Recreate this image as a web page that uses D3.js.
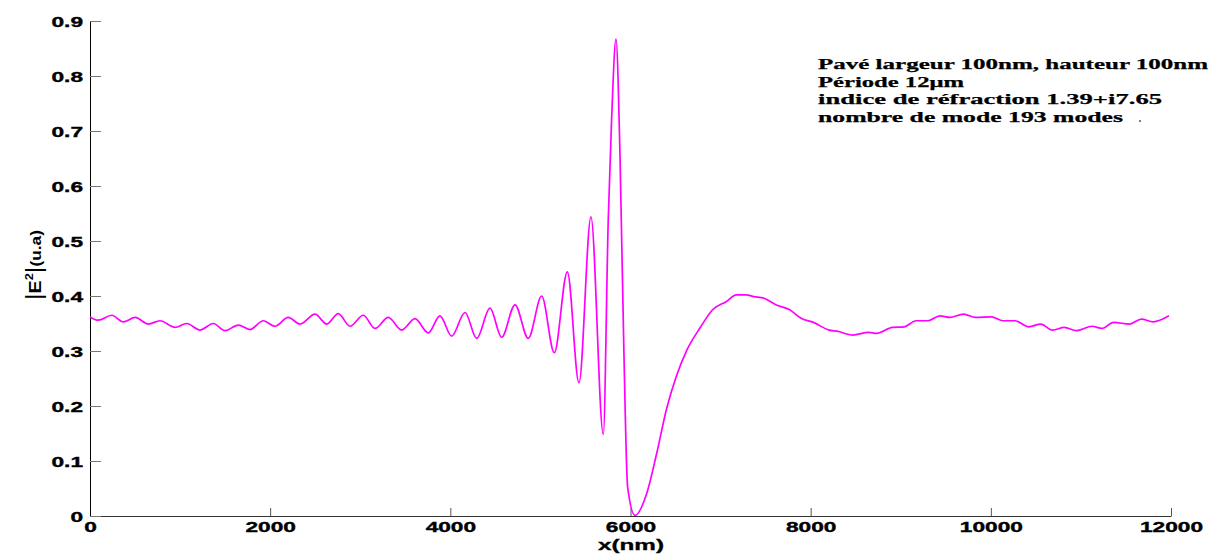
<!DOCTYPE html>
<html>
<head>
<meta charset="utf-8">
<script src="https://cdn.jsdelivr.net/npm/d3@7"></script>
<style>
  html, body { margin: 0; padding: 0; background: #fff; }
  svg { display: block; }
</style>
</head>
<body>
<div id="chart"></div>
<script>
// x position (nm) of each point
const xNm = [
  0, 92, 241, 370, 500, 647, 777, 944, 1073, 1221, 1369, 1499, 1646, 1776, 1924, 2054,
  2201, 2331, 2498, 2628, 2756, 2886, 3034, 3164, 3311, 3460, 3608, 3755, 3885, 4015,
  4163, 4293, 4440, 4570, 4718, 4865, 5014, 5154, 5299, 5428, 5561, 5698, 5753, 5790,
  5839, 5883, 5927, 5968, 6050, 6180, 6291, 6402, 6513, 6627, 6780, 6911, 7066, 7175,
  7284, 7370, 7481, 7613, 7767, 7899, 8030, 8205, 8292, 8469, 8645, 8733, 8908, 9039,
  9171, 9302, 9434, 9544, 9697, 9829, 10004, 10136, 10268, 10422, 10553, 10685, 10816,
  10948, 11123, 11233, 11364, 11540, 11672, 11803, 11977
];
// |E^2| (u.a) at those points
const intensity = [
  0.362, 0.356, 0.365, 0.353, 0.361, 0.349, 0.355, 0.343, 0.350, 0.338, 0.350, 0.337, 0.347, 0.339, 0.355, 0.345,
  0.361, 0.349, 0.367, 0.349, 0.368, 0.345, 0.365, 0.341, 0.361, 0.338, 0.359, 0.333, 0.364, 0.327,
  0.370, 0.323, 0.378, 0.325, 0.384, 0.323, 0.400, 0.297, 0.444, 0.242, 0.544, 0.1485, 0.538, 0.720,
  0.867, 0.659, 0.296, 0.053, 0.001, 0.041, 0.114, 0.196, 0.256, 0.302, 0.344, 0.375, 0.390, 0.402,
  0.402, 0.399, 0.396, 0.384, 0.375, 0.359, 0.352, 0.338, 0.336, 0.329, 0.334, 0.332, 0.343, 0.344,
  0.355, 0.355, 0.364, 0.361, 0.367, 0.361, 0.362, 0.355, 0.355, 0.344, 0.349, 0.338, 0.343,
  0.337, 0.345, 0.341, 0.352, 0.349, 0.358, 0.353, 0.364
];

const xTicks = [0, 2000, 4000, 6000, 8000, 10000, 12000];
const yTicks = [0, 0.1, 0.2, 0.3, 0.4, 0.5, 0.6, 0.7, 0.8, 0.9];

const noteLines = [
  "Pavé largeur 100nm, hauteur 100nm",
  "Période 12μm",
  "indice de réfraction 1.39+i7.65",
  "nombre de mode 193 modes"
];
const noteWidths = [390, 146, 344, 305];

const W = 1220, H = 554;
const sans = "'Liberation Sans', Arial, Helvetica, sans-serif";
const serif = "'Liberation Serif', 'Times New Roman', serif";

const svg = d3.select("#chart").append("svg")
    .attr("width", W)
    .attr("height", H);

const x = d3.scaleLinear().domain([0, 12000]).range([90, 1171]);
const y = d3.scaleLinear().domain([0, 0.9]).range([516, 21]);

function styleTickText(sel){
    sel.style("font-family", sans)
        .style("font-weight", "bold")
        .style("font-size", "14px")
        .attr("fill", "#000")
        .attr("stroke", "#000")
        .attr("stroke-width", 0.35);
}

// x axis
const gx = svg.append("g")
    .attr("transform", `translate(0,${y(0)})`)
    .call(d3.axisBottom(x).tickValues(xTicks).tickFormat(d3.format("d")).tickSize(-8).tickSizeOuter(0));
gx.select(".domain").attr("stroke", "#333");
gx.selectAll(".tick line").attr("stroke", "#555");
gx.selectAll(".tick text")
    .attr("y", 16)
    .attr("dy", null)
    .attr("transform", "scale(1.62,1)")
    .call(styleTickText);

// y axis
const gy = svg.append("g")
    .attr("transform", `translate(${x(0)},0)`)
    .call(d3.axisLeft(y).tickValues(yTicks).tickFormat(d => d === 0 ? "0" : d3.format(".1f")(d)).tickSize(-11).tickSizeOuter(0));
gy.select(".domain").attr("stroke", "#000");
gy.selectAll(".tick line").attr("stroke", "#777");
gy.selectAll(".tick text")
    .attr("x", -7 / 1.62)
    .attr("dy", "0.36em")
    .attr("transform", "scale(1.62,1)")
    .call(styleTickText);

// curve
const pts = xNm.map((v, i) => [v, intensity[i]]);
const line = d3.line()
    .x(d => x(d[0]))
    .y(d => y(d[1]))
    .curve(d3.curveMonotoneX);

svg.append("path")
    .datum(pts)
    .attr("d", line)
    .attr("fill", "none")
    .attr("stroke", "#ff00ff")
    .attr("stroke-width", 1.7)
    .attr("stroke-linejoin", "round");

// axis titles
svg.append("text")
    .attr("x", 631)
    .attr("y", 550)
    .attr("text-anchor", "middle")
    .attr("textLength", 66)
    .attr("lengthAdjust", "spacingAndGlyphs")
    .attr("stroke", "#000")
    .attr("stroke-width", 0.3)
    .style("font-family", sans)
    .style("font-weight", "bold")
    .style("font-size", "14px")
    .text("x(nm)");

const yt = svg.append("text")
    .attr("transform", "translate(41,265) rotate(-90)")
    .attr("text-anchor", "middle")
    .attr("textLength", 70)
    .attr("lengthAdjust", "spacingAndGlyphs")
    .style("font-family", sans)
    .style("font-weight", "bold")
    .style("font-size", "17px");
yt.append("tspan").style("font-size", "22px").style("font-weight", "normal").text("|");
yt.append("tspan").text("E");
yt.append("tspan").attr("dy", -8).style("font-size", "11px").text("2");
yt.append("tspan").attr("dy", 8).style("font-size", "22px").style("font-weight", "normal").text("|");
yt.append("tspan").style("font-size", "15px").text("(u.a)");

// annotation
svg.append("g").selectAll("text")
    .data(noteLines)
    .join("text")
    .attr("x", 818)
    .attr("y", (d, i) => 69 + i * 17.5)
    .attr("textLength", (d, i) => noteWidths[i])
    .attr("lengthAdjust", "spacingAndGlyphs")
    .attr("stroke", "#000")
    .attr("stroke-width", 0.25)
    .style("font-family", serif)
    .style("font-weight", "bold")
    .style("font-size", "15px")
    .text(d => d);

svg.append("circle")
    .attr("cx", 1140)
    .attr("cy", 121)
    .attr("r", 0.9)
    .attr("fill", "#444");
</script>
</body>
</html>
